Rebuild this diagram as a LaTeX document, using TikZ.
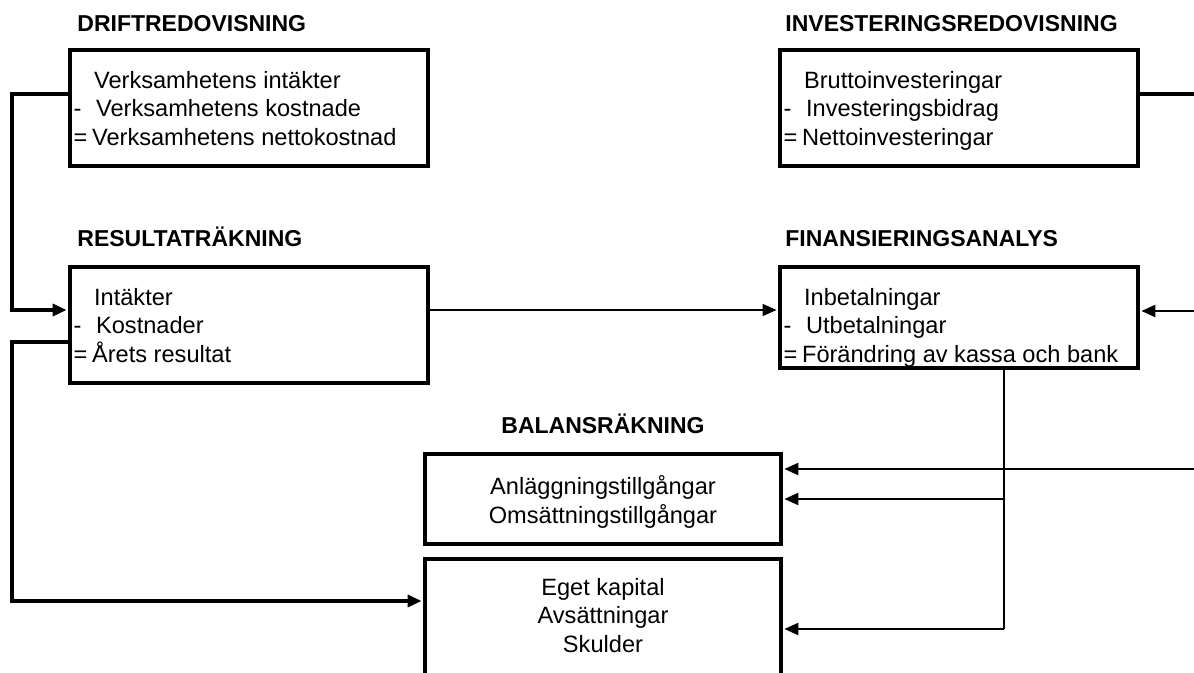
\documentclass[tikz,border=0pt]{standalone}
\usepackage{fontspec}
\setmainfont{Liberation Sans}
\usetikzlibrary{arrows.meta}

\newcommand{\rowlead}{\hspace*{10.25pt}}
\newcommand{\rowless}{\makebox[11.25pt][l]{-}}
\newcommand{\rowsum}{\makebox[9.25pt][l]{=}}

\tikzset{
  box/.style={draw, rectangle, line width=1.8pt, inner sep=0pt},
  heading/.style={inner sep=0pt, font=\fontsize{11.5}{13}\selectfont\bfseries},
  boxtext/.style={inner sep=0pt, align=left, font=\fontsize{11.8}{14.35}\selectfont},
  midtext/.style={inner sep=0pt, align=center, font=\fontsize{11.8}{14.35}\selectfont},
  heavy/.style={line width=1.7pt},
  medium/.style={line width=1.2pt},
  light/.style={line width=0.7pt},
  tip/.style={-{Triangle[length=7pt,width=6pt]}, shorten >=0.8pt},
}

\begin{document}
\begin{tikzpicture}[x=0.5pt, y=-0.5pt]
\useasboundingbox (0,0) rectangle (1194,673);

%%% headings %%%
\node[heading, anchor=base west] (hdrift) at (77,31.5) {DRIFTREDOVISNING};
\node[heading, anchor=base west] (hinvest) at (785,31.5) {INVESTERINGSREDOVISNING};
\node[heading, anchor=base west] (hresult) at (77,246.5) {RESULTATRÄKNING};
\node[heading, anchor=base west] (hfinans) at (785,246.5) {FINANSIERINGSANALYS};
\node[heading, anchor=base] (hbalans) at (603,434) {BALANSRÄKNING};

%%% boxes %%%
\node[box, minimum width=179pt, minimum height=58pt] (drift) at (249,108) {};
\node[box, minimum width=179pt, minimum height=58pt] (invest) at (959,108) {};
\node[box, minimum width=179pt, minimum height=58pt] (resultat) at (249,325) {};
\node[box, minimum width=179pt, minimum height=50.5pt] (finans) at (959,317.5) {};
\node[box, minimum width=178pt, minimum height=45pt] (tillg) at (603,499) {};
\node[box, minimum width=178pt, minimum height=65.5pt] (eget) at (603,624.5) {};

%% box texts
\node[boxtext, anchor=north west] (tdrift) at ([xshift=2.5pt,yshift=-11.25pt]drift.north west)
  {\rowlead Verksamhetens intäkter\\\rowless Verksamhetens kostnade\\\rowsum Verksamhetens nettokostnad};
\node[boxtext, anchor=north west] (tinvest) at ([xshift=2.5pt,yshift=-11.25pt]invest.north west)
  {\rowlead Bruttoinvesteringar\\\rowless Investeringsbidrag\\\rowsum Nettoinvesteringar};
\node[boxtext, anchor=north west] (tresultat) at ([xshift=2.5pt,yshift=-11.25pt]resultat.north west)
  {\rowlead Intäkter\\\rowless Kostnader\\\rowsum Årets resultat};
\node[boxtext, anchor=north west] (tfinans) at ([xshift=2.5pt,yshift=-11.25pt]finans.north west)
  {\rowlead Inbetalningar\\\rowless Utbetalningar\\\rowsum Förändring av kassa och bank};
\node[midtext, anchor=north] (ttillg) at ([yshift=-11.65pt]tillg.north)
  {Anläggningstillgångar\\Omsättningstillgångar};
\node[midtext, anchor=north] (teget) at ([yshift=-10.15pt]eget.north)
  {Eget kapital\\Avsättningar\\Skulder};

%%% connectors %%%
\coordinate (ltop) at (12,94);
\coordinate (lmid) at (12,310);
\coordinate (lcut) at (12,342);
\coordinate (lbot) at (12,601);
\coordinate (rtop) at (1200,94);
\coordinate (rfin) at (1200,311);
\coordinate (rbal) at (1200,469);
\coordinate (fork) at (1004,499);
\coordinate (drop) at (1004,629);

\draw[heavy, tip] (drift.west |- ltop) -- (ltop) -- (lmid) -- (resultat.west |- lmid);
\draw[heavy, tip] (resultat.west |- lcut) -- (lcut) -- (lbot) -- (eget.west |- lbot);
\draw[light, tip] (resultat.east |- lmid) -- (finans.west |- lmid);
\draw[heavy] (invest.east |- rtop) -- (rtop);
\draw[medium, tip] (rfin) -- (finans.east |- rfin);
\draw[medium, tip] (rbal) -- (tillg.east |- rbal);
\draw[light] (finans.south -| drop) -- (drop);
\draw[medium, tip] (fork) -- (tillg.east |- fork);
\draw[medium, tip] (drop) -- (eget.east |- drop);

\end{tikzpicture}
\end{document}
